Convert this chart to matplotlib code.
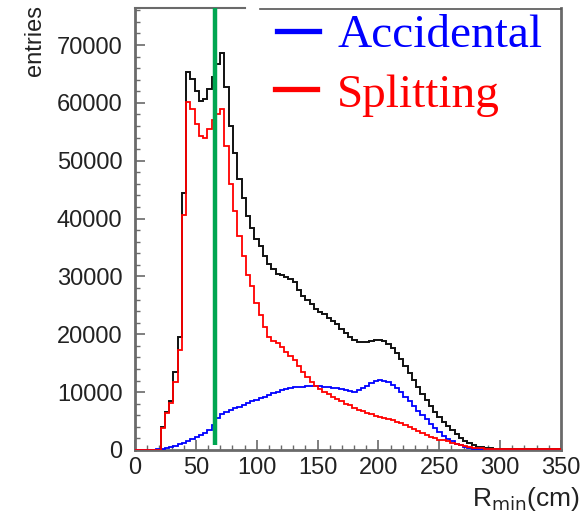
import matplotlib
matplotlib.use("Agg")
import matplotlib.pyplot as plt
import numpy as np
from matplotlib.lines import Line2D

# histogram binning: 100 bins of 3.5 cm from 0 to 350
bin_edges = np.linspace(0, 350, 101)

total = [0, 0, 0, 0, 0, 0, 3900, 6600, 8400, 13500,
         19600, 44500, 65300, 64200, 62100, 60400, 60700, 62400, 64500, 66700,
         68700, 62700, 56000, 51400, 46800, 43600, 40400, 38400, 36400, 35200,
         33500, 32200, 31200, 30500, 30200, 29900, 29600, 29000, 27700, 26700,
         26000, 25200, 24300, 23900, 23500, 22800, 22300, 21800, 21000, 20300,
         19600, 19000, 18600, 18600, 18700, 18900, 19100, 19100, 18900, 18300,
         17700, 16700, 15700, 14500, 13300, 12100, 10900, 9700, 8600, 7600,
         6500, 5700, 4900, 4100, 3400, 2700, 2100, 1600, 1200, 850,
         600, 450, 350, 280, 230, 200, 190, 180, 170, 170,
         160, 160, 150, 150, 150, 140, 140, 140, 130, 130]

splitting = [0, 0, 0, 0, 0, 0, 3800, 6400, 8100, 11800,
             17300, 40700, 60100, 58900, 56300, 54300, 54000, 55500, 57000, 58000,
             58900, 52600, 45900, 41300, 37000, 33500, 30300, 28300, 25400, 23400,
             21300, 19600, 18800, 18500, 17800, 17000, 16300, 15600, 14600, 13500,
             12700, 11800, 11000, 10600, 10100, 9600, 9200, 8800, 8400, 8000,
             7700, 7300, 7000, 6700, 6400, 6200, 5900, 5700, 5500, 5300,
             5100, 4900, 4600, 4300, 4000, 3600, 3200, 2900, 2600, 2300,
             2000, 1800, 1800, 1500, 1200, 1000, 850, 700, 550, 420,
             330, 280, 240, 220, 200, 190, 180, 170, 170, 160,
             160, 150, 150, 150, 140, 140, 140, 130, 130, 130]

accidental = [0, 0, 0, 0, 50, 150, 250, 400, 550, 750,
              1000, 1200, 1500, 1900, 2300, 2600, 3000, 3400, 4300, 5600,
              6200, 6500, 7000, 7300, 7500, 7800, 8100, 8400, 8700, 9000,
              9200, 9500, 9800, 10000, 10300, 10600, 10800, 10900, 10900, 10900,
              11000, 11000, 11000, 11000, 10900, 10900, 10800, 10700, 10600, 10400,
              10200, 10100, 10300, 10700, 11100, 11500, 11900, 12100, 12000, 11700,
              11300, 10700, 10000, 9200, 8400, 7600, 6800, 6000, 5300, 4500,
              3800, 3100, 2500, 1900, 1500, 1100, 850, 600, 400, 250,
              150, 100, 60, 40, 25, 15, 10, 5, 0, 0,
              0, 0, 0, 0, 0, 0, 0, 0, 0, 0]

cut_position = 65.5
x_ticks = [0, 50, 100, 150, 200, 250, 300, 350]
y_ticks = [0, 10000, 20000, 30000, 40000, 50000, 60000, 70000]

W, H = 588, 517
fig = plt.figure(figsize=(W / 100, H / 100), dpi=100)
ax = fig.add_axes([135 / W, 1 - 450 / H, (561 - 135) / W, (450 - 8) / H])

frame = "#6a6a6a"
ax.stairs(total, bin_edges, color="#111111", lw=1.4, zorder=3)
ax.stairs(accidental, bin_edges, color="#0000ff", lw=1.3, zorder=3)
ax.stairs(splitting, bin_edges, color="#ff0000", lw=1.3, zorder=3)
ax.plot([cut_position, cut_position], [900, 80000], color="#00a651", lw=3.2,
        solid_capstyle="butt", zorder=4)

ax.set_xlim(0, 350)
ax.set_ylim(0, 76400)
ax.set_xticks(x_ticks)
ax.set_yticks(y_ticks)
ax.set_xticks(np.arange(0, 351, 10), minor=True)
ax.set_yticks(np.arange(0, 76001, 2000), minor=True)
ax.tick_params(which="both", direction="in", color=frame, labelcolor="#222222",
               labelsize=17, top=False, right=False)
ax.tick_params(which="major", length=7, width=1.2)
ax.tick_params(which="minor", length=3.5, width=1)
ax.tick_params(axis="x", pad=5)
ax.tick_params(axis="y", pad=9)
for lab in ax.get_xticklabels() + ax.get_yticklabels():
    lab.set_fontfamily("Liberation Sans")

for side in ["left", "bottom", "right"]:
    ax.spines[side].set_color(frame)
    ax.spines[side].set_linewidth(2)
ax.spines["top"].set_visible(False)
# top frame, partly hidden by the legend box
ax.plot([0, 90], [1, 1], transform=ax.get_xaxis_transform(), color=frame, lw=1.5,
        clip_on=False)
fig.add_artist(Line2D([260 / W, 561 / W], [1 - 9 / H, 1 - 9 / H], color="#555555", lw=1.2))

# legend
fig.add_artist(Line2D([277 / W, 319 / W], [1 - 31 / H, 1 - 31 / H], color="#0000ff", lw=3.8))
fig.add_artist(Line2D([275 / W, 317 / W], [1 - 89 / H, 1 - 89 / H], color="#ff0000", lw=3.8))
fig.text(337 / W, 1 - 47 / H, "Accidental", color="#0000ff", fontsize=34,
         family="Liberation Serif", va="baseline", ha="left")
fig.text(337 / W, 1 - 107 / H, "Splitting", color="#ff0000", fontsize=34,
         family="Liberation Serif", va="baseline", ha="left")

fig.text(35 / W, 1 - 5 / H, "entries", rotation=90, fontsize=17, color="#222222",
         family="Liberation Sans", ha="center", va="top")
fig.text(580 / W, 1 - 506 / H, r"R$_{\rm min}$(cm)", fontsize=19, color="#222222",
         family="Liberation Sans", ha="right", va="baseline")

fig.savefig("out.png", dpi=100)
